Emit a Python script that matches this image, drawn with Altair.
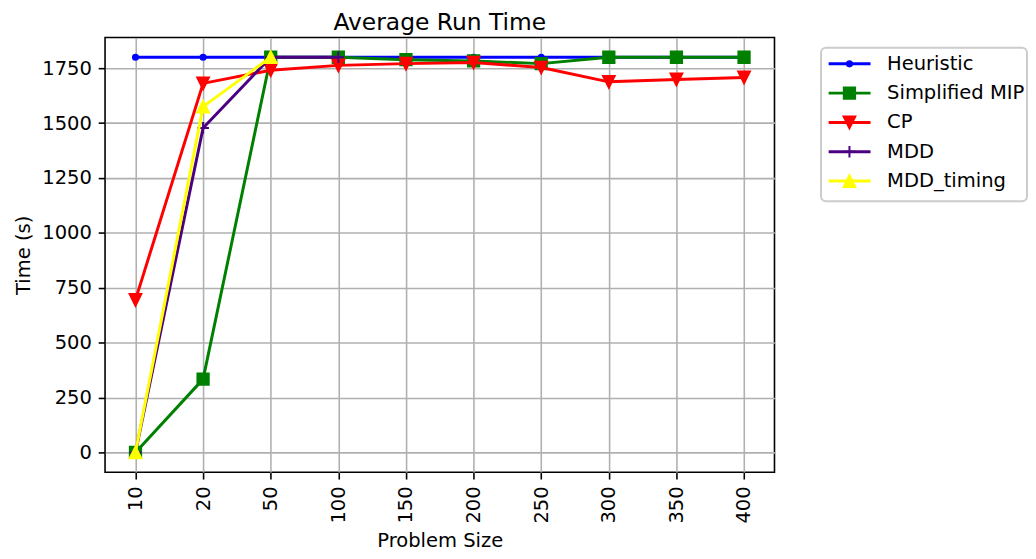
import altair as alt
import pandas as pd

# ---- data ----
sizes = ["10", "20", "50", "100", "150", "200", "250", "300", "350", "400"]
series_names = ["Heuristic", "Simplified MIP", "CP", "MDD", "MDD_timing"]
heuristic = [1800, 1800, 1800, 1800, 1800, 1800, 1800, 1800, 1800, 1800]
simplified_mip = [0, 334, 1800, 1800, 1789, 1783, 1771, 1800, 1800, 1800]
cp = [695, 1681, 1741, 1763, 1771, 1776, 1753, 1688, 1699, 1708]
mdd = [0, 1478, 1800, 1800]
mdd_timing = [0, 1575, 1800]
y_ticks = [0, 250, 500, 750, 1000, 1250, 1500, 1750]

all_values = [heuristic, simplified_mip, cp, mdd, mdd_timing]
rows = []
for name, vals in zip(series_names, all_values):
    for s, v in zip(sizes, vals):
        rows.append({"series": name, "size": s, "time": v})
df = pd.DataFrame(rows)
leg_df = pd.DataFrame({"series": series_names})

# ---- styles ----
FONT = "DejaVu Sans"
styles = {
    "Heuristic": dict(color="#0000ff", shape="circle", size=27, filled=True),
    "Simplified MIP": dict(color="#008000", shape="square", size=130, filled=True),
    "CP": dict(color="#ff0000", shape="M0,1L-1,-1L1,-1Z", size=139, filled=True),
    "MDD": dict(color="#4b0082", shape="M-1,0L1,0M0,-1L0,1", size=139, filled=False),
    "MDD_timing": dict(color="#ffff00", shape="M0,-1L-1,1L1,1Z", size=139, filled=True),
}


def point_mark(chart, name):
    st = styles[name]
    if st["filled"]:
        return chart.mark_point(shape=st["shape"], size=st["size"], filled=True,
                                fill=st["color"], stroke=st["color"], strokeWidth=2,
                                opacity=1)
    return chart.mark_point(shape=st["shape"], size=st["size"], filled=False,
                            stroke=st["color"], strokeWidth=2, opacity=1)


x_enc = alt.X("size:O",
              scale=alt.Scale(type="point", domain=sizes, padding=0.45),
              axis=alt.Axis(title="Problem Size", labelAngle=270, labelAlign="right",
                            labelBaseline="middle", grid=True))
y_enc = alt.Y("time:Q",
              scale=alt.Scale(domain=[-90, 1890], nice=False, zero=False),
              axis=alt.Axis(title="Time (s)", values=y_ticks, format="d", grid=True))

main_layers = []
for name in series_names:
    st = styles[name]
    base = alt.Chart(df).transform_filter(alt.datum.series == name)
    main_layers.append(base.mark_line(color=st["color"], strokeWidth=3,
                                      strokeJoin="round").encode(x=x_enc, y=y_enc))
    main_layers.append(point_mark(base, name).encode(x=x_enc, y=y_enc))

main = alt.layer(*main_layers).properties(
    width=676, height=439,
    title=alt.TitleParams("Average Run Time", font=FONT, fontSize=23.6,
                          fontWeight="normal", color="black", anchor="middle",
                          frame="group", baseline="top", offset=3.4),
    view=alt.ViewBackground(stroke="black", strokeWidth=1.6, fill="white"),
)

# legend panel (its view top lines up with the plot top)
BOX_TOP = 10.3
BOX_H = 155
leg_y = alt.Y("series:N",
              scale=alt.Scale(type="point", domain=series_names,
                              range=[BOX_TOP + 16.3, BOX_TOP + 134.7], padding=0),
              axis=None)
box = alt.Chart(leg_df).transform_filter(alt.datum.series == series_names[0]).mark_rect(
    fill="white", stroke="#cccccc", strokeWidth=2, cornerRadius=5).encode(
    x=alt.value(0), x2=alt.value(208), y=alt.value(BOX_TOP), y2=alt.value(BOX_TOP + BOX_H))
leg_layers = [box]
for name in series_names:
    st = styles[name]
    base = alt.Chart(leg_df).transform_filter(alt.datum.series == name)
    leg_layers.append(base.mark_rule(color=st["color"], strokeWidth=3).encode(
        y=leg_y, x=alt.value(7.7), x2=alt.value(50)))
    leg_layers.append(point_mark(base, name).encode(y=leg_y, x=alt.value(28.7)))
leg_layers.append(alt.Chart(leg_df).mark_text(
    align="left", baseline="middle", font=FONT, fontSize=19.7, color="black").encode(
    y=leg_y, x=alt.value(66.7), text="series:N"))

legend = alt.layer(*leg_layers).properties(
    width=208, height=BOX_TOP + BOX_H + 2,
    view=alt.ViewBackground(stroke=None, fill=None),
)

chart = alt.hconcat(main, legend, spacing=45).properties(
    padding={"left": 5, "top": -0.9, "right": 0, "bottom": 0},
    background="white",
).configure_axis(
    labelFont=FONT, labelFontSize=19.7, labelColor="black",
    titleFont=FONT, titleFontSize=19.7, titleFontWeight="normal", titleColor="black",
    tickColor="black", tickWidth=1.6, tickSize=6.9, labelPadding=6.9,
    gridColor="#b0b0b0", gridWidth=1.6, domain=False, titlePadding=7.9,
).configure_view(stroke="black")

chart.save("out.html", embed_options={"renderer": "svg", "actions": False})
